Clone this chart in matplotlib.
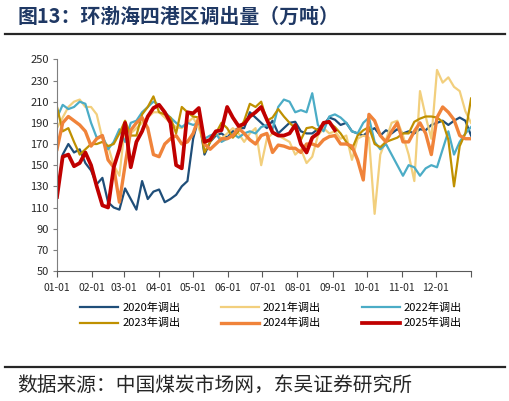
import matplotlib.pyplot as plt
from matplotlib.lines import Line2D

# ----------------------------
# FONTS
# ----------------------------
plt.rcParams['font.family'] = ['Noto Sans CJK SC', 'DejaVu Sans']

# ----------------------------
# DATA (one value every 5 days)
# ----------------------------
DAYS = list(range(0, 366, 5))

MONTH_STARTS = [0, 31, 59, 90, 120, 151, 181, 212, 243, 273, 304, 334]
MONTH_LABELS = ["01-01", "02-01", "03-01", "04-01", "05-01", "06-01",
                "07-01", "08-01", "09-01", "10-01", "11-01", "12-01"]

Y2020 = [120, 160, 170, 162, 165, 152, 145, 132, 138, 115,
         110, 108, 128, 118, 108, 135, 118, 125, 127, 115,
         118, 122, 130, 135, 175, 195, 160, 172, 178, 180,
         176, 182, 185, 185, 200, 195, 190, 185, 192, 180,
         185, 190, 191, 182, 180, 180, 184, 188, 195, 193,
         188, 190, 182, 180, 178, 182, 185, 178, 183, 180,
         184, 180, 182, 180, 184, 183, 188, 190, 192, 188,
         192, 195, 192, 178]

Y2021 = [185, 195, 205, 210, 212, 205, 205, 198, 175, 168,
         150, 140, 188, 180, 185, 190, 195, 200, 200, 195,
         190, 186, 185, 190, 195, 185, 170, 175, 180, 175,
         180, 185, 180, 172, 180, 185, 150, 175, 180, 178,
         175, 172, 160, 165, 152, 158, 178, 185, 180, 182,
         175, 178, 155, 175, 178, 176, 104, 160, 174, 190,
         192, 178, 160, 135, 220, 196, 175, 240, 228, 233,
         224, 220, 201, 190]

Y2022 = [195, 207, 203, 205, 210, 208, 190, 176, 178, 165,
         172, 184, 172, 190, 192, 200, 205, 210, 207, 200,
         195, 190, 186, 190, 188, 190, 175, 178, 180, 172,
         175, 180, 176, 180, 182, 180, 186, 188, 184, 205,
         212, 210, 200, 202, 200, 218, 188, 182, 196, 198,
         195, 190, 182, 180, 190, 195, 172, 165, 170, 160,
         150, 140, 150, 148, 140, 147, 150, 148, 165, 182,
         160, 172, 180, 186]

Y2023 = [205, 182, 185, 172, 160, 165, 170, 170, 172, 168,
         170, 180, 192, 178, 178, 198, 205, 215, 200, 198,
         195, 180, 205, 200, 196, 195, 162, 172, 180, 190,
         185, 176, 182, 192, 208, 205, 210, 192, 195, 203,
         196, 190, 185, 174, 185, 186, 183, 190, 190, 186,
         180, 172, 165, 178, 183, 186, 170, 167, 172, 174,
         176, 180, 180, 191, 194, 196, 196, 195, 191, 174,
         130, 168, 180, 213]

Y2024 = [165, 190, 196, 192, 188, 182, 168, 175, 178, 155,
         148, 115, 150, 183, 190, 195, 185, 160, 158, 170,
         175, 178, 170, 172, 180, 195, 170, 165, 170, 175,
         175, 178, 185, 180, 174, 170, 178, 180, 162, 169,
         168, 166, 166, 162, 170, 170, 168, 174, 177, 178,
         170, 170, 168, 155, 136, 198, 192, 178, 172, 182,
         190, 172, 172, 182, 190, 180, 160, 195, 205, 200,
         193, 178, 175, 175]

# 2025 stops in early September
Y2025 = [120, 158, 160, 149, 152, 162, 150, 130, 112, 110,
         148, 165, 190, 148, 172, 182, 196, 204, 207, 200,
         190, 150, 147, 200, 199, 204, 172, 174, 182, 183,
         205, 195, 187, 189, 196, 200, 205, 193, 181, 178,
         178, 180, 188, 170, 162, 176, 180, 190, 191, 183]

SERIES = [
    ("2020年调出", Y2020, "#1F4E79", 1.6),
    ("2021年调出", Y2021, "#F2CF7D", 1.6),
    ("2022年调出", Y2022, "#4BACC6", 1.6),
    ("2023年调出", Y2023, "#BF9000", 1.6),
    ("2024年调出", Y2024, "#F0833A", 2.4),
    ("2025年调出", Y2025, "#C00000", 2.7),
]

# ----------------------------
# FIGURE
# ----------------------------
fig = plt.figure(figsize=(5.10, 4.01), dpi=100)
ax = fig.add_axes([0.1118, 0.3242, 0.8118, 0.5278])

lines = []
for label, values, color, lw in SERIES:
    ln, = ax.plot(DAYS[:len(values)], values, color=color, linewidth=lw,
                  label=label, solid_joinstyle="round")
    lines.append(ln)

ax.set_xlim(0, 365)
ax.set_ylim(50, 250)
ax.set_yticks(range(50, 251, 20))
ax.set_xticks(MONTH_STARTS + [365])
ax.set_xticklabels(MONTH_LABELS + [""])

for side in ["top", "right"]:
    ax.spines[side].set_visible(False)
ax.spines["left"].set_color("#7F7F7F")
ax.spines["bottom"].set_color("#595959")
ax.tick_params(axis="y", direction="out", length=3, color="#7F7F7F",
               labelsize=8, labelcolor="#262626", pad=3)
ax.tick_params(axis="x", direction="out", length=4, color="#595959",
               labelsize=7.5, labelcolor="#262626", pad=5)

# legend filled row by row: 2020 2021 2022 / 2023 2024 2025
order = [0, 3, 1, 4, 2, 5]
fig.legend([lines[i] for i in order], [SERIES[i][0] for i in order],
           loc="center", bbox_to_anchor=(0.532, 0.213), ncol=3,
           frameon=False, fontsize=8, handlelength=3.4, handletextpad=0.35,
           columnspacing=3.7, labelspacing=0.45)

# ----------------------------
# TITLE / SOURCE
# ----------------------------
fig.text(18 / 510, 1 - 16 / 401, "图13：环渤海四港区调出量（万吨）",
         fontsize=14.3, fontweight="bold", color="#1F3864", va="center")
fig.add_artist(Line2D([5 / 510, 505 / 510], [1 - 34 / 401, 1 - 34 / 401],
                      color="#262626", linewidth=1.6))
fig.add_artist(Line2D([5 / 510, 505 / 510], [1 - 367 / 401, 1 - 367 / 401],
                      color="#262626", linewidth=1.6))
fig.text(17 / 510, 1 - 385 / 401, "数据来源：中国煤炭市场网，东吴证券研究所",
         fontsize=14.2, color="#262626", va="center")

fig.savefig("out.png", dpi=100)
